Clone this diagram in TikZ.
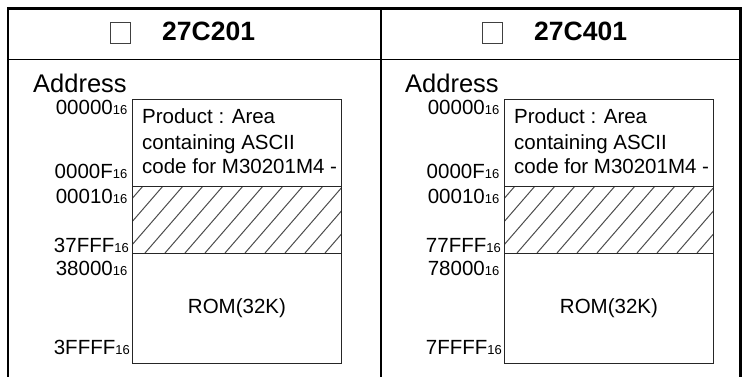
\documentclass[tikz,border=0pt]{standalone}
\usepackage{fontspec}
\setmainfont{Liberation Sans}
\newcommand\hexaddr[1]{{\fontsize{20.5}{21}\selectfont #1}{\fontsize{13}{13}\selectfont 16}}
\tikzset{
  frameline/.style={line width=2.8pt, black},
  thinrule/.style={line width=1pt, black},
  chkbox/.style={draw=black!75, line width=0.9pt, minimum width=20pt, minimum height=21pt, inner sep=0pt},
  titletext/.style={inner sep=0pt, anchor=base west, font=\fontsize{26.5}{27}\selectfont\bfseries},
  headtext/.style={inner sep=0pt, anchor=base west, font=\fontsize{25.5}{26}\selectfont},
  addrlabel/.style={inner sep=0pt, anchor=base east},
  memcell/.style={draw=black!85, line width=0.9pt, inner sep=0pt, anchor=north west, minimum width=209pt},
  celltext/.style={inner sep=0pt, font=\fontsize{20.5}{25}\selectfont},
  hatchline/.style={draw=black!70, line width=1pt},
}
\newcommand\mempanel[4]{%
\begin{scope}[xshift=#1pt]
  \node[chkbox] (#2chk) at (120,32.5) {};
  \node[titletext] (#2title) at (162,40) {#3};
  \node[headtext] (#2addr) at (33,92) {Address};
  \node[memcell, minimum height=87pt] (#2prod) at (132,99) {};
  \node[memcell, minimum height=67pt] (#2hatch) at (132,186) {};
  \node[memcell, minimum height=110pt] (#2rom) at (132,253) {};
  \begin{scope}
    \clip (#2hatch.south west) rectangle (#2hatch.north east);
    \foreach \k in {-1,...,12} \draw[hatchline] ({143+20*\k},186) -- ++(-58,67);
  \end{scope}
  \draw[draw=black!85, line width=0.9pt] (#2hatch.north west) rectangle (#2hatch.south east);
  \node[celltext, anchor=base west] (#2p1) at (142,123) {Product : Area};
  \node[celltext, anchor=base west] (#2p2) at (142,149) {containing ASCII};
  \node[celltext, anchor=base west] (#2p3) at (142,173) {code for M30201M4 -};
  \node[celltext] (#2romtext) at (#2rom.center) {ROM(32K)};
  \node[addrlabel] (#2a1) at (127.5,114) {\hexaddr{00000}};
  \node[addrlabel] (#2a2) at (127.5,178) {\hexaddr{0000F}};
  \node[addrlabel] (#2a3) at (127.5,203) {\hexaddr{00010}};
  \node[addrlabel] (#2a4) at (129,252) {\hexaddr{#47FFF}};
  \node[addrlabel] (#2a5) at (127.5,275) {\hexaddr{#48000}};
  \node[addrlabel] (#2a6) at (130,354) {\hexaddr{#4FFFF}};
\end{scope}}
\begin{document}
\begin{tikzpicture}[x=1pt,y=-1pt]
  \useasboundingbox (0,0) rectangle (743,376);
  \coordinate (bl) at (8,380);
  \coordinate (tl) at (8,8.3);
  \coordinate (tr) at (740.5,8.3);
  \coordinate (br) at (740.5,380);
  \coordinate (dt) at (381,8.3);
  \coordinate (db) at (381,380);
  \coordinate (hl) at (8,59);
  \coordinate (hr) at (740.5,59);
  \draw[thinrule] (hl) -- (hr);
  \draw[frameline] (bl) -- (tl) -- (tr) -- (br);
  \draw[frameline] (dt) -- (db);
  \mempanel{0}{L}{27C201}{3}
  \mempanel{372}{R}{27C401}{7}
\end{tikzpicture}
\end{document}
